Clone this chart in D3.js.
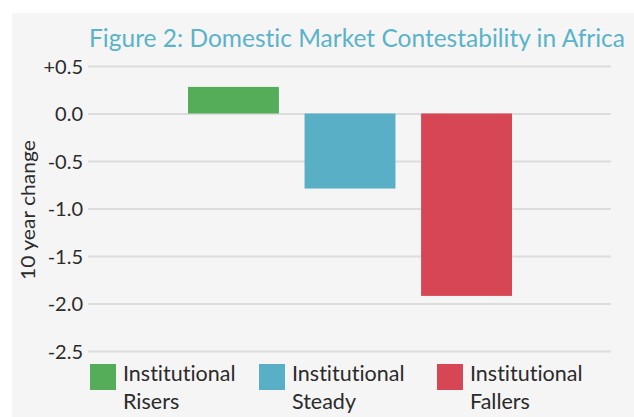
<!DOCTYPE html>
<html>
<head>
<meta charset="utf-8">
<script src="https://cdn.jsdelivr.net/npm/d3@7"></script>
<style>
  html, body { margin: 0; padding: 0; background: #ffffff; }
  svg { display: block; }
  text { font-family: Lato, "Open Sans", sans-serif; font-variant-ligatures: none; font-feature-settings: "liga" 0; }
</style>
</head>
<body>
<svg id="chart" width="634" height="417"></svg>
<script>
// Groups and their 10-year change in domestic market contestability
const categories = ["Institutional Risers", "Institutional Steady", "Institutional Fallers"];
const legendLines = [["Institutional", "Risers"], ["Institutional", "Steady"], ["Institutional", "Fallers"]];
const values = [0.28, -0.79, -1.92];
const colors = ["#55ad5a", "#58afc6", "#d64655"];
const tickValues = [0.5, 0, -0.5, -1, -1.5, -2, -2.5];
const tickLabels = ["+0.5", "0.0", "-0.5", "-1.0", "-1.5", "-2.0", "-2.5"];
const titleText = "Figure 2: Domestic Market Contestability in Africa";
const yLabel = "10 year change";

const svg = d3.select("#chart");

// panel background
svg.append("rect")
  .attr("x", 12).attr("y", 13)
  .attr("width", 622).attr("height", 404)
  .attr("fill", "#f5f5f5");

const y = d3.scaleLinear().domain([-2.5, 0.5]).range([351, 66]);
const x = d3.scaleBand().domain(categories).range([188, 512])
  .paddingInner(0.22).paddingOuter(0);

// horizontal gridlines + labels via axis
const yAxis = d3.axisLeft(y)
  .tickValues(tickValues)
  .tickSize(-(611 - 88))
  .tickPadding(5)
  .tickFormat((d, i) => tickLabels[i]);

const gAxis = svg.append("g").attr("transform", "translate(88,0)").call(yAxis);
gAxis.attr("font-size", null).attr("font-family", null);
gAxis.select(".domain").remove();
gAxis.selectAll(".tick line")
  .attr("stroke", "#dcdcdc").attr("stroke-width", 2);
gAxis.selectAll(".tick text")
  .attr("x", -5)
  .attr("dy", "0.36em")
  .attr("fill", "#2b2b2b")
  .style("font-size", "20px");

// bars
svg.append("g").selectAll("rect")
  .data(values)
  .join("rect")
  .attr("x", (d, i) => x(categories[i]))
  .attr("width", x.bandwidth())
  .attr("y", d => y(Math.max(0, d)))
  .attr("height", d => Math.abs(y(d) - y(0)))
  .attr("fill", (d, i) => colors[i]);

// title
svg.append("text")
  .attr("x", 89).attr("y", 47)
  .attr("fill", "#5ab3c9")
  .style("font-size", "25px")
  .attr("textLength", 536)
  .attr("lengthAdjust", "spacingAndGlyphs")
  .text(titleText);

// y-axis title
svg.append("text")
  .attr("transform", "translate(35,210) rotate(-90)")
  .attr("text-anchor", "middle")
  .attr("fill", "#2b2b2b")
  .style("font-size", "20px")
  .attr("textLength", 140)
  .attr("lengthAdjust", "spacingAndGlyphs")
  .text(yLabel);

// legend
const legendX = [90, 259, 437];
const legend = svg.append("g").selectAll("g")
  .data(categories)
  .join("g")
  .attr("transform", (d, i) => `translate(${legendX[i]},364)`);
legend.append("rect")
  .attr("width", 26).attr("height", 26)
  .attr("fill", (d, i) => colors[i]);
legend.each(function (d, i) {
  const t = d3.select(this).append("text")
    .attr("fill", "#2b2b2b")
    .style("font-size", "21.5px");
  legendLines[i].forEach((line, j) => {
    t.append("tspan").attr("x", 33).attr("y", 17 + j * 28).text(line);
  });
});
</script>
</body>
</html>
